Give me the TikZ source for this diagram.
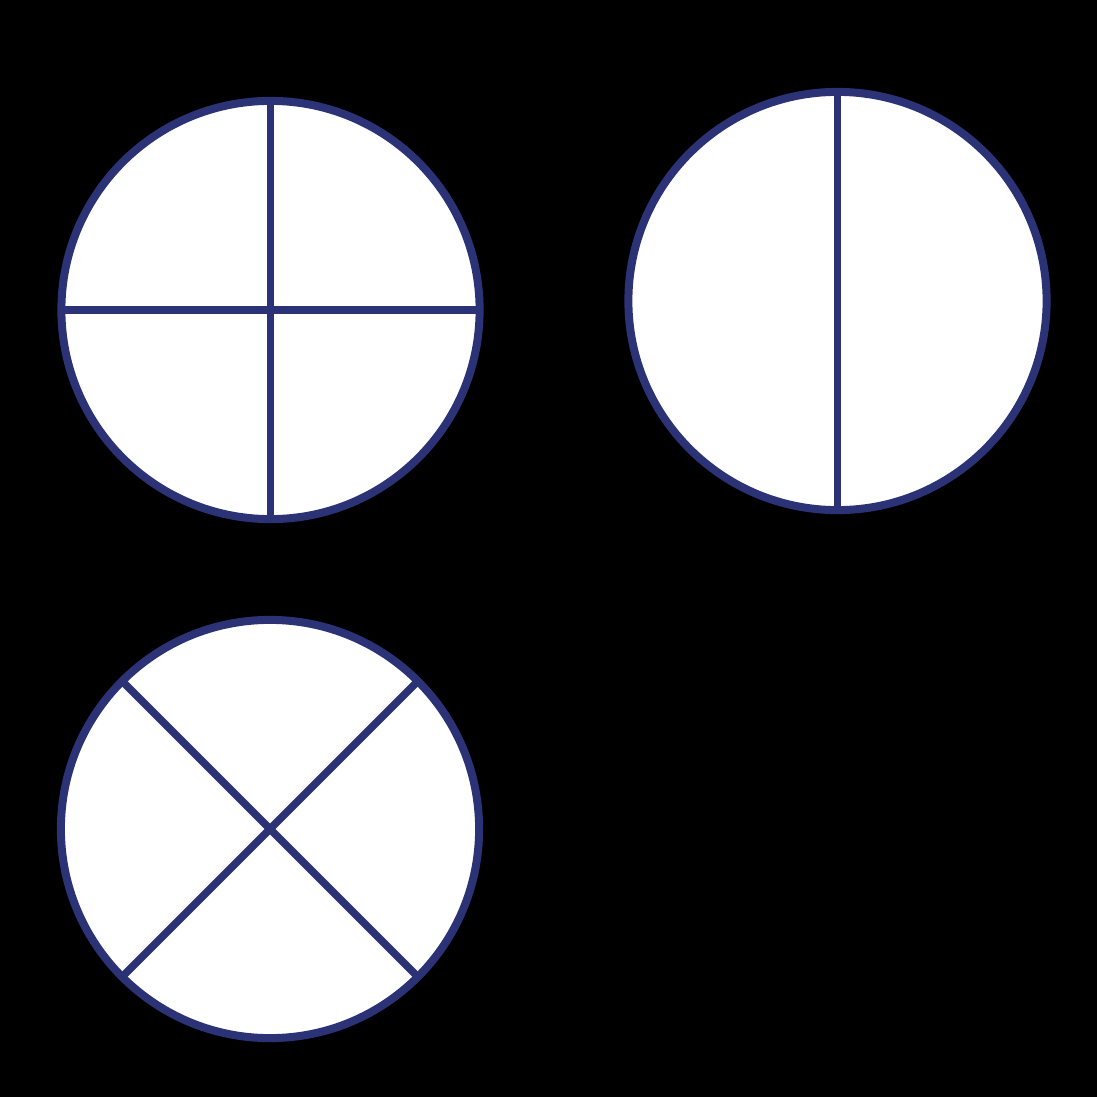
\documentclass[tikz,border=0pt]{standalone}
\usetikzlibrary{positioning}

\definecolor{navy}{RGB}{43,50,117}

\begin{document}
\begin{tikzpicture}[
        x=0.01cm, y=-0.01cm,
        disc/.style={circle, draw=navy, fill=white, line width=0.08cm, minimum size=4.18cm, inner sep=0pt, outer sep=0pt},
        cut/.style={draw=navy, line width=0.075cm}
    ]
        \fill[black] (0,0) rectangle (1097,1097);
        \useasboundingbox (0,0) rectangle (1097,1097);
        \node[disc] (quarters) at (270.5,310) {};
        \node[disc] (halves) at (837.5,301) {};
        \node[disc] (cross) at (270,829) {};
        \draw[cut] (quarters.north) -- (quarters.south);
        \draw[cut] (quarters.west) -- (quarters.east);
        \draw[cut] (halves.north) -- (halves.south);
        \draw[cut] (cross.45) -- (cross.225);
        \draw[cut] (cross.135) -- (cross.-45);
    \end{tikzpicture}
\end{document}
